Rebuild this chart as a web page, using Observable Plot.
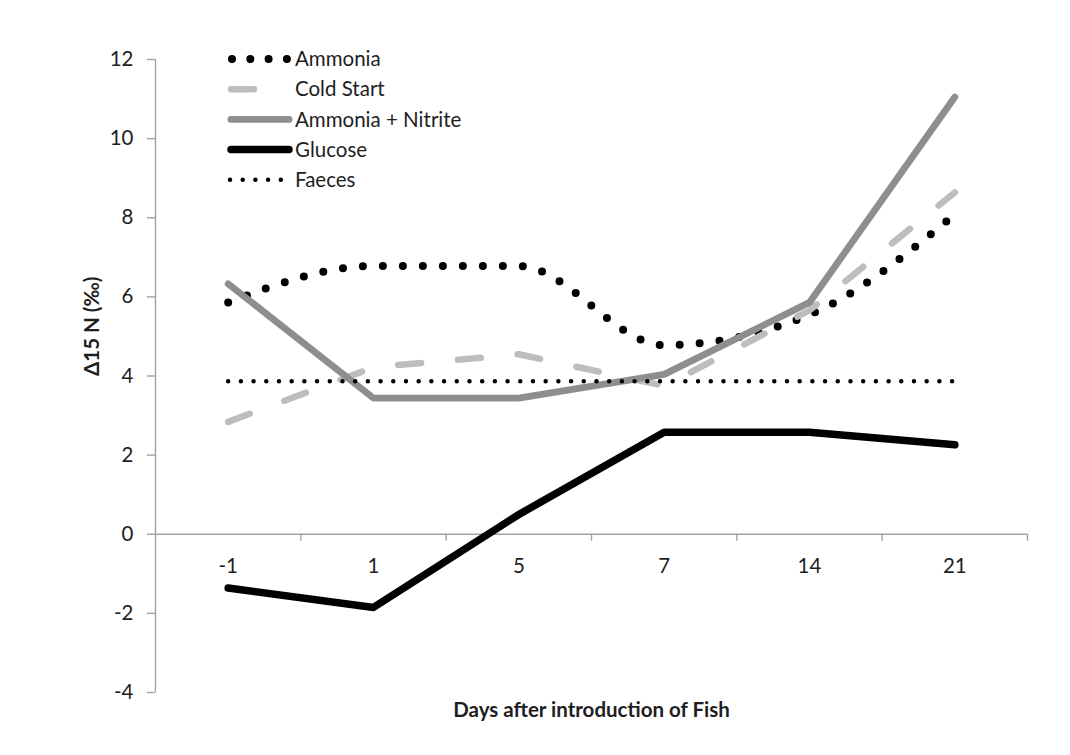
<!DOCTYPE html>
<html>
<head>
<meta charset="utf-8">
<script src="https://cdn.jsdelivr.net/npm/d3@7"></script>
<script src="https://cdn.jsdelivr.net/npm/@observablehq/plot@0.6"></script>
<style>
  html, body { margin: 0; padding: 0; background: #fff; }
  #wrap { position: relative; width: 1070px; height: 755px; font-family: Lato, "Open Sans", sans-serif; }
  #legend { position: absolute; left: 0; top: 0; }
</style>
</head>
<body>
<div id="wrap"></div>
<script>
// ---- data ----
const days = ["-1", "1", "5", "7", "14", "21"];
const ammonia        = [5.86, 6.78, 6.78, 4.78, 5.55, 8.08];
const coldStart      = [2.84, 4.22, 4.55, 3.75, 5.66, 8.64];
const ammoniaNitrite = [6.33, 3.44, 3.44, 4.04, 5.86, 11.05];
const glucose        = [-1.36, -1.85, 0.50, 2.58, 2.58, 2.26];
const faeces         = [3.87, 3.87, 3.87, 3.87, 3.87, 3.87];
const seriesNames = ["Ammonia", "Cold Start", "Ammonia + Nitrite", "Glucose", "Faeces"];
const yTicks = [-4, -2, 0, 2, 4, 6, 8, 10, 12];
const yLabel = "Δ15 N (‰)";
const xLabel = "Days after introduction of Fish";

// ---- styles ----
const axisGray = "#a3a3a3";
const textColor = "#1e1e1e";
const FS = 20.5;
const styles = {
  "Ammonia":           {stroke: "#000", strokeWidth: 8, strokeDasharray: "0 20", strokeLinecap: "round", curve: "monotone-x"},
  "Cold Start":        {stroke: "#bdbdbd", strokeWidth: 6.5, strokeDasharray: "23 37", strokeLinecap: "round", curve: "linear"},
  "Ammonia + Nitrite": {stroke: "#8e8e8e", strokeWidth: 6.8, strokeLinecap: "round", strokeLinejoin: "round", curve: "linear"},
  "Glucose":           {stroke: "#000", strokeWidth: 7.5, strokeLinecap: "round", strokeLinejoin: "round", curve: "linear"},
  "Faeces":            {stroke: "#000", strokeWidth: 4.5, strokeDasharray: "0 12.7", strokeLinecap: "round", curve: "linear"}
};
const legendDash = {
  "Ammonia": "0 18.3",
  "Cold Start": "23 100",
  "Ammonia + Nitrite": null,
  "Glucose": null,
  "Faeces": "0 12.7"
};

const seriesValues = [ammonia, coldStart, ammoniaNitrite, glucose, faeces];
const rows = (vals) => days.map((d, i) => ({i, day: d, v: vals[i]}));
const boundaries = days.map((d, i) => i + 0.5);

const W = 1070, H = 755;
const chart = Plot.plot({
  width: W,
  height: H,
  marginLeft: 155,
  marginRight: 43,
  marginTop: 59,
  marginBottom: 63,
  style: {fontFamily: "Lato, 'Open Sans', sans-serif", fontSize: FS + "px", color: textColor, background: "#fff"},
  x: {type: "linear", domain: [-0.5, days.length - 0.5], axis: null},
  y: {domain: [-4, 12], axis: null},
  marks: [
    // y axis line and x axis line at zero
    Plot.ruleX([-0.5], {stroke: axisGray, strokeWidth: 1.4}),
    Plot.ruleY([0], {stroke: axisGray, strokeWidth: 1.4}),
    // category boundary ticks under the zero line
    Plot.ruleX(boundaries, {x: d => d, y1: () => 0, y2: () => 0, insetBottom: -7, stroke: axisGray, strokeWidth: 1.4}),
    // y ticks + labels
    Plot.axisY(yTicks, {anchor: "left", tickSize: 8, tickPadding: 14, stroke: axisGray, fill: textColor,
      strokeWidth: 1.4, tickFormat: d => String(d), fontSize: FS, label: null}),
    // x category labels below zero line
    Plot.text(days, {x: (d, i) => i, y: () => 0, text: d => d, dy: 32, fill: textColor, fontSize: FS}),
    // axis titles
    Plot.text([yLabel], {frameAnchor: "left", dx: -63, rotate: -90, fontWeight: "bold", fontSize: FS, fill: textColor}),
    Plot.text([xLabel], {frameAnchor: "bottom", dy: 24, fontWeight: "bold", fontSize: FS, fill: textColor}),
    // series
    ...seriesNames.map((name, k) => Plot.line(rows(seriesValues[k]), {x: "i", y: "v", ...styles[name]}))
  ]
});

const wrap = document.getElementById("wrap");
wrap.appendChild(chart);

// ---- legend (inside plot, upper left) ----
const lg = d3.select(wrap).append("svg")
  .attr("id", "legend")
  .attr("width", W).attr("height", 220)
  .style("pointer-events", "none");
const rowY0 = 59, rowStep = 30.2;
seriesNames.forEach((name, k) => {
  const s = styles[name];
  const y = rowY0 + k * rowStep;
  let x1 = 228, x2 = 291;
  if (name === "Ammonia") { x1 = 232; x2 = 288; }
  if (name === "Faeces") { x1 = 230; x2 = 282; }
  if (name === "Cold Start") { x1 = 231; x2 = 258; }
  if (name === "Ammonia + Nitrite" || name === "Glucose") { x1 = 231; x2 = 289; }
  const ln = lg.append("line")
    .attr("x1", x1).attr("x2", x2).attr("y1", y).attr("y2", y)
    .attr("stroke", s.stroke).attr("stroke-width", s.strokeWidth)
    .attr("stroke-linecap", "round");
  if (legendDash[name]) ln.attr("stroke-dasharray", legendDash[name]);
  lg.append("text")
    .attr("x", 295).attr("y", y).attr("dy", "0.35em")
    .attr("fill", textColor)
    .style("font-family", "Lato, 'Open Sans', sans-serif")
    .style("font-size", FS + "px")
    .text(name);
});
</script>
</body>
</html>
